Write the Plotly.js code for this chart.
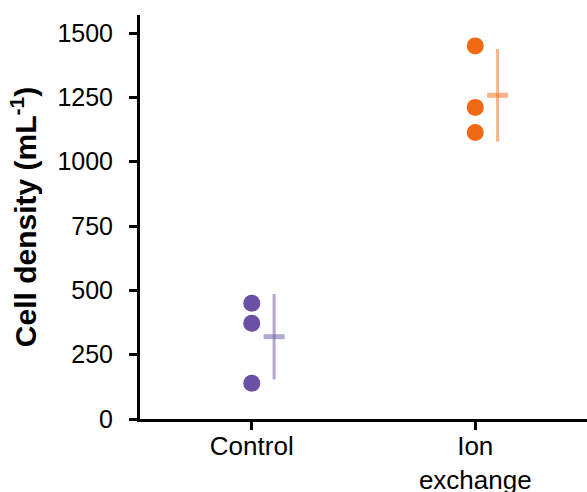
<!DOCTYPE html>
<html>
<head>
<meta charset="utf-8">
<script src="https://cdn.plot.ly/plotly-3.0.1.min.js"></script>
<style>html,body{margin:0;padding:0;background:#fff;}#chart{width:587px;height:492px;}</style>
</head>
<body>
<div id="chart"></div>
<script>
const categories = ["Control", "Ion<br>exchange"];
const controlValues = [450, 372, 139];
const ionValues = [1450, 1211, 1113];
const means = [320, 1258];
const sds = [166, 180];
const yTickVals = [0, 250, 500, 750, 1000, 1250, 1500];

const colors = ["#6a51a3", "#f16913"];
const faded = ["rgba(106,81,163,0.5)", "rgba(241,105,19,0.5)"];
const groups = [controlValues, ionValues];
const offset = 0.1;

const traces = [];
groups.forEach((vals, i) => {
  traces.push({
    type: "scatter", mode: "markers",
    x: vals.map(() => i), y: vals,
    marker: {color: colors[i], size: 17, line: {width: 0}},
    hoverinfo: "y", showlegend: false
  });
  traces.push({
    type: "scatter", mode: "markers",
    x: [i + offset], y: [means[i]],
    marker: {symbol: "line-ew", size: 15, color: faded[i], line: {color: faded[i], width: 5}},
    error_y: {type: "data", array: [sds[i]], visible: true, color: faded[i], thickness: 3, width: 0},
    hoverinfo: "y", showlegend: false
  });
});

const layout = {
  width: 587, height: 492,
  margin: {l: 140, r: 0, t: 15, b: 73},
  paper_bgcolor: "#fff", plot_bgcolor: "#fff",
  font: {family: "Liberation Sans, Arial, sans-serif", size: 26, color: "#000"},
  xaxis: {
    range: [-0.5, 1.5], tickvals: [0, 1], ticktext: categories,
    showline: true, linecolor: "#000", linewidth: 3,
    ticks: "outside", ticklen: 8, tickwidth: 3, tickcolor: "#000",
    ticklabelstandoff: -6,
    showgrid: false, zeroline: false, fixedrange: true
  },
  yaxis: {
    range: [0, 1570], tickvals: yTickVals,
    showline: true, linecolor: "#000", linewidth: 3,
    ticks: "outside", ticklen: 8, tickwidth: 3, tickcolor: "#000",
    tickfont: {size: 25}, ticklabelstandoff: 11,
    showgrid: false, zeroline: false,
    title: {text: "<b>Cell density (mL<sup>-1</sup>)</b>", font: {size: 30}, standoff: 12}
  }
};

Plotly.newPlot("chart", traces, layout, {displayModeBar: false, staticPlot: true});
</script>
</body>
</html>
